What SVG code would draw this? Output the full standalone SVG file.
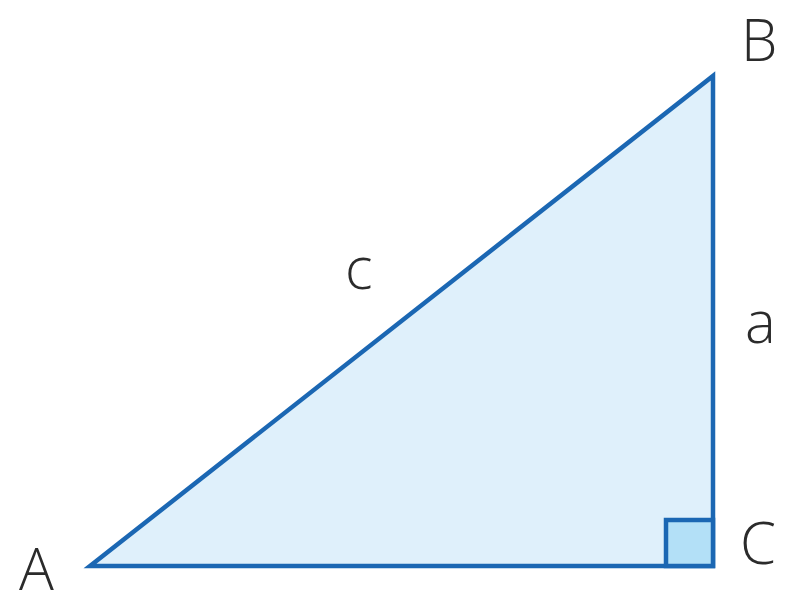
<svg xmlns="http://www.w3.org/2000/svg" width="785" height="600" viewBox="0 0 785 600">
<style>
.lbl{font-family:"Open Sans","Liberation Sans",sans-serif;font-weight:300;font-size:58px;fill:#2b2b2b}
</style>
<rect width="785" height="600" fill="#fff"/>
<g id="triangle">
<polygon points="90,566 713,76 713,566" fill="#dff0fb" stroke="#1b67b3" stroke-width="4.5" stroke-linejoin="miter"/>
<rect x="666" y="520" width="47" height="46" fill="#b3e0f7" stroke="#1b67b3" stroke-width="4.5"/>
</g>
<g id="labels">
<text class="lbl" x="19" y="590">A</text>
<text class="lbl" x="741" y="61">B</text>
<text class="lbl" x="740" y="564">C</text>
<text class="lbl" x="345" y="289">c</text>
<text class="lbl" x="745" y="343">a</text>
</g>
</svg>
